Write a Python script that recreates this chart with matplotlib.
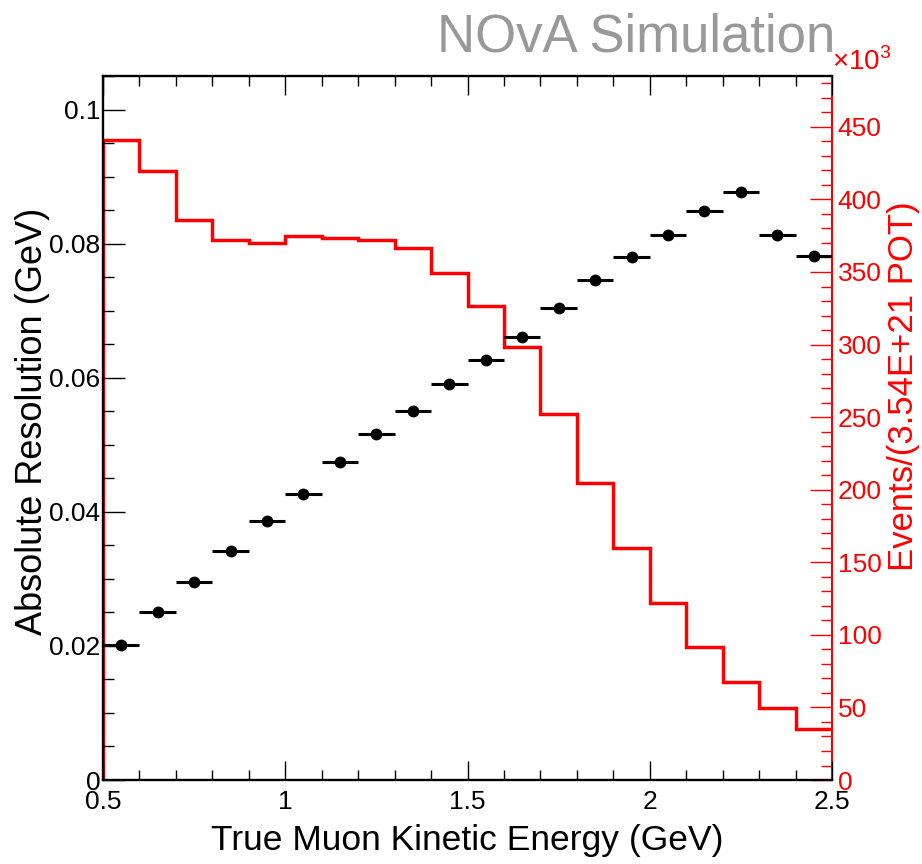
import matplotlib
matplotlib.use('Agg')
import matplotlib.pyplot as plt
from matplotlib.ticker import MultipleLocator, FormatStrFormatter
import numpy as np

plt.rcParams['font.family'] = ['Liberation Sans', 'DejaVu Sans']
plt.rcParams['mathtext.fontset'] = 'custom'
plt.rcParams['mathtext.rm'] = 'Liberation Sans'

# resolution points (bin centres, GeV)
energy = [0.55, 0.65, 0.75, 0.85, 0.95, 1.05, 1.15, 1.25, 1.35, 1.45,
          1.55, 1.65, 1.75, 1.85, 1.95, 2.05, 2.15, 2.25, 2.35, 2.45]
resolution = [0.0202, 0.0250, 0.0296, 0.0341, 0.0386, 0.0427, 0.0475, 0.0516, 0.0551, 0.0590,
              0.0627, 0.0661, 0.0704, 0.0746, 0.0780, 0.0813, 0.0848, 0.0877, 0.0813, 0.0782]
half_width = 0.05

# event histogram (x10^3 events)
edges = [0.5, 0.6, 0.7, 0.8, 0.9, 1.0, 1.1, 1.2, 1.3, 1.4, 1.5,
         1.6, 1.7, 1.8, 1.9, 2.0, 2.1, 2.2, 2.3, 2.4, 2.5]
events = [440.8, 419.7, 385.7, 372.0, 370.0, 374.7, 373.3, 372.0, 366.7, 349.4,
          326.5, 298.5, 252.0, 204.6, 159.6, 121.7, 91.8, 67.7, 49.4, 34.9]

fig = plt.figure(figsize=(9.22, 8.64), dpi=100)
ax = fig.add_axes([0.1117, 0.0972, 0.7907, 0.8148])
ax2 = ax.twinx()
ax.set_zorder(ax2.get_zorder() + 1)
ax.patch.set_visible(False)

# histogram on the right axis
xs = np.concatenate([[edges[0]], np.repeat(edges, 2)[1:-1]])
ys = np.concatenate([[0], np.repeat(events, 2)])
ax2.plot(xs, ys, color='red', lw=2.5, solid_joinstyle='miter')
ax2.set_ylim(0, 485)
ax2.yaxis.set_major_locator(MultipleLocator(50))
ax2.yaxis.set_minor_locator(MultipleLocator(10))
ax2.tick_params(axis='y', which='both', direction='in', colors='red', labelsize=19, pad=4)
ax2.tick_params(axis='y', which='major', length=16, width=1)
ax2.tick_params(axis='y', which='minor', length=8, width=1)
ax2.set_ylabel('Events/(3.54E+21 POT)', color='red', fontsize=25)
ax2.yaxis.set_label_coords(1.076, 0.56)
for s in ['left', 'top', 'bottom']:
    ax2.spines[s].set_visible(False)
ax2.spines['right'].set_color('red')
ax2.spines['right'].set_linewidth(1.5)
ax2.text(1.0, 1.0, r'$\times10^{3}$', transform=ax2.transAxes, color='red',
         fontsize=20, ha='left', va='bottom')

# resolution points
ax.errorbar(energy, resolution, xerr=half_width, fmt='o', color='black',
            ms=7.5, elinewidth=2.2, capsize=0)
ax.set_xlim(0.5, 2.5)
ax.set_ylim(0, 0.105)
ax.xaxis.set_major_locator(MultipleLocator(0.5))
ax.xaxis.set_minor_locator(MultipleLocator(0.1))
ax.yaxis.set_major_locator(MultipleLocator(0.02))
ax.yaxis.set_minor_locator(MultipleLocator(0.005))
ax.xaxis.set_major_formatter(FormatStrFormatter('%g'))
ax.yaxis.set_major_formatter(FormatStrFormatter('%g'))
ax.tick_params(axis='x', which='both', direction='in', top=True, labelsize=19, pad=7)
ax.tick_params(axis='x', which='major', length=14, width=1)
ax.tick_params(axis='x', which='minor', length=7, width=1)
ax.tick_params(axis='y', which='both', direction='in', labelsize=19, pad=2)
ax.tick_params(axis='y', which='major', length=16, width=1)
ax.tick_params(axis='y', which='minor', length=8, width=1)
for s in ['left', 'top', 'bottom']:
    ax.spines[s].set_linewidth(1.7)
ax.spines['right'].set_visible(False)

ax.set_xlabel('True Muon Kinetic Energy (GeV)', fontsize=25.5)
ax.xaxis.set_label_coords(0.5, -0.063)
ax.set_ylabel('Absolute Resolution (GeV)', fontsize=26)
ax.yaxis.set_label_coords(-0.072, 0.51)

fig.text(0.906, 0.94, 'NOvA Simulation', color='#999999', fontsize=38,
         ha='right', va='baseline')

fig.savefig('out.png', dpi=100)
